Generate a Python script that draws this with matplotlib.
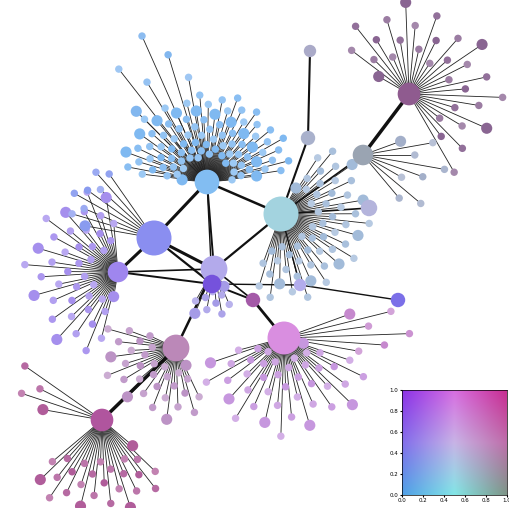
import numpy as np
import matplotlib
matplotlib.use("Agg")
import matplotlib.pyplot as plt

# hubs: name, x, y, radius(px), color
hub_names = ["A","B","C","D","E","F","G","H","I","J","K","L","M","N","O","P","Q"]
hub_x = [207,281,154,214,118,212,176,284,102,409,363,308,310,369,253,300,398]
hub_y = [182,214,238,269,272,284,348,338,420,94,155,138,51,208,300,285,300]
hub_r = [12,17,17,13,10,9,13,16,11,11,10,7,6,8,7,6,7]
hub_col = ["#82bdf2","#a3d3df","#8a8ef0","#b3aaeb","#9f86ee","#7552dc","#bb88b8","#d98ee0",
           "#b0559e","#8f5b8f","#9aa4b2","#a9b1cc","#aaaac8","#b4b4dc","#a45aa8","#b2acec","#7b6fe8"]
# hub-hub edges: (i, j, width)
edges = [("A","C",2.2),("A","B",1.8),("B","L",1.5),("L","M",1.5),("K","J",2.5),("B","K",1.2),
         ("B","D",1.6),("C","E",2.2),("C","D",2.2),("D","F",1.8),("D","G",1.8),("F","O",1.4),
         ("O","H",2.0),("G","I",2.5),("E","F",1.4),("A","D",1.4),("D","O",1.2),("F","P",1.0),
         ("P","Q",1.0),("B","N",1.2),("B","P",1.0),("C","F",1.6),("A","F",1.0),("E","D",1.2)]
# leaf groups: hub, count, angle start, angle end (deg), r min, r max, leaf color
grp_hub = ["A","B","E","G","H","I","J","K","C","D","A","H","I"]
grp_n   = [90,55,42,32,42,26,30,8,8,10,6,6,4]
grp_a0  = [185,-60,100,60,15,40,-150,-20,190,60,225,-20,190]
grp_a1  = [355,110,265,205,165,140,60,50,235,120,260,10,215]
grp_r0  = [25,30,25,20,20,40,35,40,70,20,100,70,60]
grp_r1  = [90,90,95,75,100,95,95,90,95,50,170,135,100]
grp_col = ["#85bcf2","#a6bedb","#a994ee","#bf98c8","#c99ce0","#b4659f","#8f6c97","#a7b3cc",
           "#8fa0f0","#a9a0e8","#88baf0","#c98fd0","#b4659f"]

def lighten(c, f):
    c = np.array(matplotlib.colors.to_rgb(c))
    return tuple(np.clip(c + (1 - c) * f, 0, 1))

fig = plt.figure(figsize=(5.1, 5.08), dpi=100)
ax = fig.add_axes([0, 0, 1, 1])
ax.set_xlim(0, 510); ax.set_ylim(508, 0); ax.axis("off")

idx = {n: i for i, n in enumerate(hub_names)}
for g in range(len(grp_hub)):
    h = idx[grp_hub[g]]
    n = grp_n[g]
    ang = np.radians(np.linspace(grp_a0[g], grp_a1[g], n))
    rr = np.array([grp_r0[g] + (grp_r1[g] - grp_r0[g]) * ((k * 0.618) % 1) for k in range(n)])
    lx = hub_x[h] + rr * np.cos(ang); ly = hub_y[h] + rr * np.sin(ang)
    for k in range(n):
        ax.plot([hub_x[h], lx[k]], [hub_y[h], ly[k]], color="#222222", lw=0.6, zorder=1)
    sizes = np.array([3.6 + (1.8 if k % 8 == 0 else 0) for k in range(n)])
    cols = [lighten(grp_col[g], 0.08 * ((k * 3) % 4) - 0.05) for k in range(n)]
    ax.scatter(lx, ly, s=(sizes * 2) ** 2 * 0.55, c=cols, zorder=3, linewidths=0)

for a, b, w in edges:
    i, j = idx[a], idx[b]
    ax.plot([hub_x[i], hub_x[j]], [hub_y[i], hub_y[j]], color="#111111", lw=w, zorder=2)
ax.scatter(hub_x, hub_y, s=(np.array(hub_r) * 2) ** 2 * 0.55, c=hub_col, zorder=4, linewidths=0)

# 2D colormap legend
cax = fig.add_axes([402/510, 1 - 495/508, 105/510, 105/508])
grid = np.array([[[80,160,230],[130,230,230],[125,150,135]],
                 [[130,110,235],[200,180,230],[190,110,170]],
                 [[140,50,230],[215,110,225],[200,45,145]]]) / 255.0
N = 100
u = np.linspace(0, 2, N)
img = np.zeros((N, N, 3))
for yi in range(N):
    for xi in range(N):
        x, y = u[xi], u[yi]
        x0, y0 = min(int(x), 1), min(int(y), 1)
        fx, fy = x - x0, y - y0
        img[yi, xi] = (grid[y0, x0] * (1-fx) * (1-fy) + grid[y0, x0+1] * fx * (1-fy)
                       + grid[y0+1, x0] * (1-fx) * fy + grid[y0+1, x0+1] * fx * fy)
cax.imshow(img, origin="lower", extent=[0, 1, 0, 1], aspect="auto")
ticks = [0.0, 0.2, 0.4, 0.6, 0.8, 1.0]
cax.set_xticks(ticks); cax.set_yticks(ticks)
cax.set_xticklabels([f"{t:.1f}" for t in ticks]); cax.set_yticklabels([f"{t:.1f}" for t in ticks])
cax.tick_params(labelsize=4, length=1.5, pad=1)
for s in cax.spines.values(): s.set_linewidth(0.5)
fig.savefig("out.png", dpi=100)
